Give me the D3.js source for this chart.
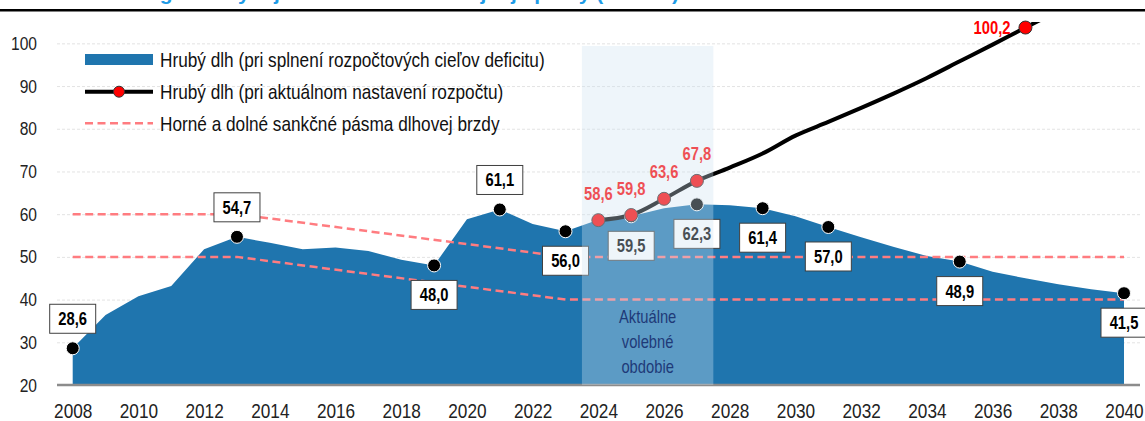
<!DOCTYPE html>
<html>
<head>
<meta charset="utf-8">
<script src="https://cdn.jsdelivr.net/npm/d3@7"></script>
<style>
  body { margin: 0; background: #fff; }
  svg { display: block; font-family: 'Liberation Sans', Arial, sans-serif; }
</style>
</head>
<body>
<div class="debt-plot"></div>
<script>
// Hrubý dlh - dva scenáre
const years = d3.range(2008, 2041);
const debtTargets = [28.6, 36.4, 40.8, 43.2, 51.8, 54.7, 53.3, 51.8, 52.2, 51.4, 49.3, 48.0, 58.8, 61.1, 57.7, 56.0,
  58.7, 59.5, 61.4, 62.3, 62.1, 61.4, 59.5, 57.0, 54.6, 52.3, 50.2, 48.9, 46.5, 45.0, 43.6, 42.4, 41.5];
const currentYears = d3.range(2024, 2039);
const debtCurrent = [58.6, 59.8, 63.6, 67.8, 70.9, 74.2, 78.4, 81.6, 84.9, 88.3, 91.9, 95.8, 99.7, 103.7, 107.6];
const brakeYears = [2008, 2013, 2023, 2040];
const brakeUpper = [60, 60, 50, 50];
const brakeLower = [50, 50, 40, 40];
const targetLabelYears = [2008, 2013, 2019, 2021, 2023, 2025, 2027, 2029, 2031, 2035, 2040];
const targetLabelSide = ['up', 'up', 'down', 'up', 'down', 'down', 'down', 'down', 'down', 'down', 'down'];
const currentLabelYears = [2024, 2025, 2026, 2027, 2037];
const currentLabelText = ['58,6', '59,8', '63,6', '67,8', '100,2'];
const termYears = [2023.5, 2027.5];
const termTop = 99.4;
const termText = ['Aktuálne', 'volebné', 'obdobie'];
const yTicks = [20, 30, 40, 50, 60, 70, 80, 90, 100];
const xTicks = d3.range(2008, 2041, 2);
const legendNames = ['Hrubý dlh (pri splnení rozpočtových cieľov deficitu)',
  'Hrubý dlh (pri aktuálnom nastavení rozpočtu)',
  'Horné a dolné sankčné pásma dlhovej brzdy'];
const title = 'Graf 1: Prognóza vývoja hrubého dlhu verejnej správy (% HDP)';

const width = 1145;
const height = 421;
const blue = '#1f75ae';
const pink = '#ff7c80';
const comma = v => d3.format('.1f')(v).replace('.', ',');

// no narrow font installed, so squeeze text horizontally
function narrow(sel) {
  sel.each(function() {
    const t = d3.select(this);
    const tx = +t.attr('x') || 0, ty = +t.attr('y') || 0;
    t.attr('transform', 'translate(' + tx + ',' + ty + ') scale(0.82,1) translate(' + (-tx) + ',' + (-ty) + ')');
  });
}

const svg = d3.select('.debt-plot')
  .append('svg')
  .attr('width', width)
  .attr('height', height);

const x = d3.scaleLinear().domain([2008, 2040]).range([72.7, 1124]);
const y = d3.scaleLinear().domain([20, 105]).range([385, 22]);

// title (cut at top) + rule
svg.append('text')
  .attr('x', 679).attr('y', 0)
  .attr('text-anchor', 'end')
  .attr('font-weight', 'bold')
  .attr('font-size', 21)
  .attr('fill', '#1e9be6')
  .text(title);
svg.append('line')
  .attr('x1', 0).attr('x2', width)
  .attr('y1', 10.3).attr('y2', 10.3)
  .attr('stroke', '#000').attr('stroke-width', 2.5);

// gridlines
svg.append('g')
  .attr('transform', 'translate(57,0)')
  .call(d3.axisLeft(y).tickValues(yTicks.slice(1)).tickSize(-(1140 - 57)).tickFormat(''))
  .call(g => g.select('.domain').remove())
  .call(g => g.selectAll('line').attr('stroke', '#e3e3e3').attr('stroke-dasharray', '3,2'));

// area
const data = years.map((yr, i) => ({year: yr, v: debtTargets[i]}));
svg.append('path')
  .datum(data)
  .attr('fill', blue)
  .attr('d', d3.area().x(d => x(d.year)).y0(y(20)).y1(d => y(d.v)));

// axis line
svg.append('line')
  .attr('x1', 57).attr('x2', 1140)
  .attr('y1', y(20)).attr('y2', y(20))
  .attr('stroke', '#8c8c8c').attr('stroke-width', 2.5);

// y labels
svg.append('g')
  .attr('transform', 'translate(37,0)')
  .call(d3.axisLeft(y).tickValues(yTicks).tickSize(0).tickPadding(0))
  .call(g => g.select('.domain').remove())
  .call(g => g.selectAll('text').attr('font-size', 19).attr('fill', '#222').attr('font-family', null).call(narrow));

// x labels
svg.append('g')
  .attr('transform', 'translate(0,' + y(20) + ')')
  .call(d3.axisBottom(x).tickValues(xTicks).tickSize(0).tickPadding(0).tickFormat(d3.format('d')))
  .call(g => g.select('.domain').remove())
  .call(g => g.selectAll('text').attr('font-size', 21).attr('fill', '#222').attr('font-family', null)
    .attr('dy', null).attr('y', 33.5).call(narrow));

// dlhova brzda
const brake = vals => d3.line().x((d, i) => x(brakeYears[i])).y(d => y(d))(vals);
[brakeUpper, brakeLower].forEach(vals => {
  svg.append('path')
    .attr('d', brake(vals))
    .attr('fill', 'none')
    .attr('stroke', pink)
    .attr('stroke-width', 2.5)
    .attr('stroke-dasharray', '8,4.5');
});

// current settings line
svg.append('clipPath').attr('id', 'plot')
  .append('rect').attr('x', 57).attr('y', y(105)).attr('width', 1140 - 57).attr('height', y(20) - y(105));
const cur = currentYears.map((yr, i) => ({year: yr, v: debtCurrent[i]}));
svg.append('path')
  .datum(cur)
  .attr('clip-path', 'url(#plot)')
  .attr('fill', 'none')
  .attr('stroke', '#000')
  .attr('stroke-width', 4)
  .attr('d', d3.line().curve(d3.curveCatmullRom).x(d => x(d.year)).y(d => y(d.v)));

// black dots + boxes
const tl = targetLabelYears.map((yr, i) => ({year: yr, v: debtTargets[years.indexOf(yr)], side: targetLabelSide[i]}));
svg.selectAll('circle.target')
  .data(tl)
  .enter()
  .append('circle')
  .attr('class', 'target')
  .attr('cx', d => x(d.year))
  .attr('cy', d => y(d.v))
  .attr('r', 6.5)
  .attr('fill', '#000')
  .attr('stroke', '#fff')
  .attr('stroke-width', 1);

const cl = currentLabelYears.map((yr, i) => ({year: yr, v: debtCurrent[currentYears.indexOf(yr)], text: currentLabelText[i]}));
svg.selectAll('circle.current')
  .data(cl)
  .enter()
  .append('circle')
  .attr('class', 'current')
  .attr('cx', d => x(d.year))
  .attr('cy', d => y(d.v))
  .attr('r', 6.5)
  .attr('fill', '#ff0000')
  .attr('stroke', '#333')
  .attr('stroke-width', 1);

const boxes = svg.selectAll('g.box')
  .data(tl)
  .enter()
  .append('g')
  .attr('class', 'box')
  .attr('transform', d => 'translate(' + x(d.year) + ',' + (y(d.v) + (d.side == 'up' ? -29.5 : 29.5)) + ')');
boxes.append('rect')
  .attr('x', -23).attr('y', -14.5)
  .attr('width', 46).attr('height', 29)
  .attr('fill', '#fff')
  .attr('stroke', '#404040')
  .attr('stroke-width', 1);
boxes.append('text')
  .attr('text-anchor', 'middle')
  .attr('dy', '0.36em')
  .attr('font-size', 18)
  .attr('font-weight', 'bold')
  .text(d => comma(d.v))
  .call(narrow);

svg.selectAll('text.current')
  .data(cl)
  .enter()
  .append('text')
  .attr('class', 'current')
  .attr('x', d => d.year == 2037 ? x(d.year) - 15 : x(d.year))
  .attr('y', d => d.year == 2037 ? y(d.v) : y(d.v) - 27)
  .attr('dy', '0.36em')
  .attr('text-anchor', d => d.year == 2037 ? 'end' : 'middle')
  .attr('font-size', 18)
  .attr('font-weight', 'bold')
  .attr('fill', '#ff0000')
  .text(d => d.text)
  .call(narrow);

// volebne obdobie
svg.append('rect')
  .attr('x', x(termYears[0]))
  .attr('y', y(termTop))
  .attr('width', x(termYears[1]) - x(termYears[0]))
  .attr('height', y(20) - y(termTop))
  .attr('fill', '#cde2f0')
  .attr('opacity', 0.35);
svg.selectAll('text.term')
  .data(termText)
  .enter()
  .append('text')
  .attr('class', 'term')
  .attr('x', (x(termYears[0]) + x(termYears[1])) / 2)
  .attr('y', (d, i) => 316.5 + i * 25)
  .attr('dy', '0.36em')
  .attr('text-anchor', 'middle')
  .attr('font-size', 18)
  .attr('fill', '#1f3a78')
  .text(d => d)
  .call(narrow);

// legend
const lg = svg.append('g').attr('transform', 'translate(85,0)');
lg.append('rect').attr('x', 0).attr('y', 54).attr('width', 68).attr('height', 11).attr('fill', blue);
lg.append('line').attr('x1', 0).attr('x2', 68).attr('y1', 91.7).attr('y2', 91.7)
  .attr('stroke', '#000').attr('stroke-width', 4);
lg.append('circle').attr('cx', 34).attr('cy', 91.7).attr('r', 5.5)
  .attr('fill', '#ff0000').attr('stroke', '#333').attr('stroke-width', 1);
lg.append('line').attr('x1', 0).attr('x2', 68).attr('y1', 123.3).attr('y2', 123.3)
  .attr('stroke', pink).attr('stroke-width', 2.5).attr('stroke-dasharray', '8,4.5');
lg.selectAll('text')
  .data(legendNames)
  .enter()
  .append('text')
  .attr('x', 75)
  .attr('y', (d, i) => 59.5 + i * 32)
  .attr('dy', '0.36em')
  .attr('font-size', 21)
  .attr('fill', '#111')
  .text(d => d)
  .call(narrow);
</script>
</body>
</html>
